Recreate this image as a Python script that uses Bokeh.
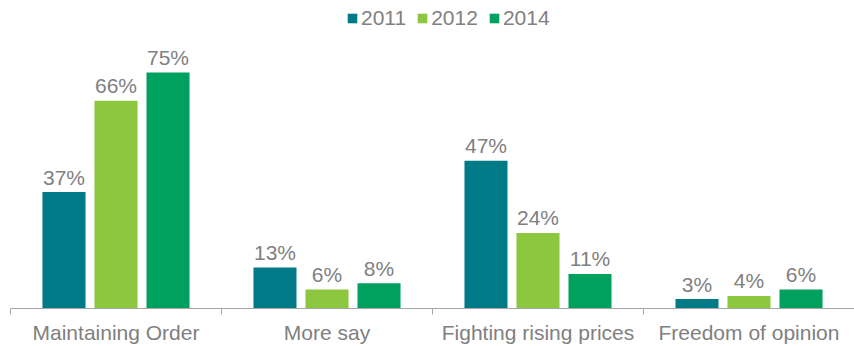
from bokeh.plotting import figure
from bokeh.models import ColumnDataSource, FixedTicker, Legend, LegendItem, Range1d
from bokeh.core.properties import value
from bokeh.embed import file_html
from bokeh.resources import INLINE

categories = ["Maintaining Order", "More say", "Fighting rising prices", "Freedom of opinion"]
years = ["2011", "2012", "2014"]
v2011 = [37, 13, 47, 3]
v2012 = [66, 6, 24, 4]
v2014 = [75, 8, 11, 6]
colors = ["#007A87", "#8DC63F", "#00A05E"]

FONT = "Liberation Sans"
GRAY = "#808080"

p = figure(frame_width=844, frame_height=308, output_backend="svg", toolbar_location=None,
           x_range=Range1d(0, 4), y_range=Range1d(0, 97.9),
           min_border_left=10, min_border_right=0, min_border_top=0, min_border_bottom=0)
p.outline_line_color = None
p.xgrid.visible = False
p.ygrid.visible = False
p.yaxis.visible = False
p.background_fill_color = "white"
p.border_fill_color = "white"

centers = [i + 0.5 for i in range(len(categories))]
offsets = [-0.2465, 0.0, 0.2465]
series = [v2011, v2012, v2014]
renderers = []
for yr, vals, off, col in zip(years, series, offsets, colors):
    src = ColumnDataSource(dict(x=[c + off for c in centers], top=vals,
                                label=[f"{v}%" for v in vals]))
    r = p.vbar(x="x", top="top", bottom=0, width=0.204, source=src,
               fill_color=col, line_color=None)
    renderers.append((yr, r))
    p.text(x="x", y="top", text="label", source=src, text_align="center",
           text_baseline="alphabetic", y_offset=-15, text_color=GRAY,
           text_font=value(FONT), text_font_size="21px")

ax = p.xaxis[0]
ax.ticker = FixedTicker(ticks=centers, minor_ticks=[0, 1, 2, 3, 4])
ax.major_label_overrides = {c: n for c, n in zip(centers, categories)}
ax.major_tick_out = 0
ax.major_tick_in = 0
ax.minor_tick_out = 6
ax.minor_tick_in = 0
ax.minor_tick_line_color = "#A6A6A6"
ax.axis_line_color = "#A6A6A6"
ax.axis_line_width = 1
ax.major_label_standoff = 6
ax.major_label_text_font = FONT
ax.major_label_text_font_size = "21px"
ax.major_label_text_color = GRAY

legend = Legend(items=[LegendItem(label=yr, renderers=[r]) for yr, r in renderers],
                orientation="horizontal", location=(336, 278),
                glyph_width=12, glyph_height=12, label_standoff=3, spacing=10,
                padding=0, margin=0, border_line_color=None,
                background_fill_alpha=0, label_text_font=FONT,
                label_text_font_size="21px", label_text_color=GRAY,
                label_height=20)
p.add_layout(legend)

open("out.html", "w").write(file_html(p, INLINE))
